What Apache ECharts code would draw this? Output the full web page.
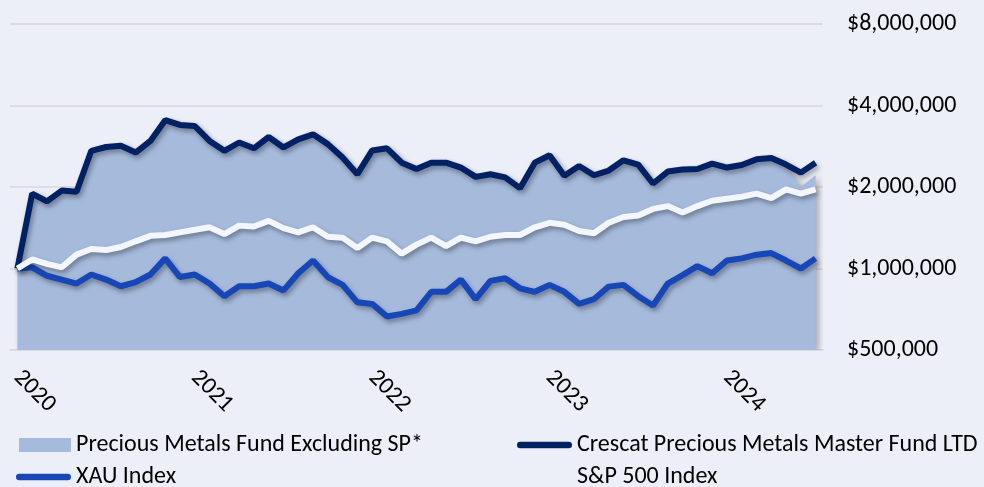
<!DOCTYPE html>
<html><head><meta charset="utf-8">
<script src="https://cdn.jsdelivr.net/npm/echarts@6/dist/echarts.min.js"></script>
<style>html,body{margin:0;padding:0;background:#ECEFF7;}#c{width:984px;height:487px;}</style>
</head><body><div id="c"></div>
<script>
const months = [
'2020-01','2020-02','2020-03','2020-04','2020-05','2020-06','2020-07','2020-08','2020-09','2020-10','2020-11','2020-12',
'2021-01','2021-02','2021-03','2021-04','2021-05','2021-06','2021-07','2021-08','2021-09','2021-10','2021-11','2021-12',
'2022-01','2022-02','2022-03','2022-04','2022-05','2022-06','2022-07','2022-08','2022-09','2022-10','2022-11','2022-12',
'2023-01','2023-02','2023-03','2023-04','2023-05','2023-06','2023-07','2023-08','2023-09','2023-10','2023-11','2023-12',
'2024-01','2024-02','2024-03','2024-04','2024-05','2024-06','2024-07'];
const yearLabels = ['2020','2021','2022','2023','2024'];
const yTicks = [500000, 1000000, 2000000, 4000000, 8000000];

const crescat = [1000000,1890000,1770000,1940000,1920000,2720000,2810000,2840000,2680000,2960000,3530000,3390000,
3360000,2960000,2720000,2920000,2780000,3060000,2800000,3000000,3130000,2880000,2570000,2230000,
2730000,2780000,2460000,2330000,2460000,2460000,2360000,2180000,2230000,2170000,1980000,2460000,
2620000,2200000,2390000,2210000,2300000,2510000,2420000,2060000,2280000,2320000,2330000,2440000,
2360000,2410000,2530000,2560000,2420000,2260000,2460000];
const fundExSP = [1000000,1890000,1770000,1940000,1920000,2720000,2810000,2840000,2680000,2960000,3530000,3390000,
3360000,2960000,2720000,2920000,2780000,3060000,2800000,3000000,3130000,2880000,2570000,2230000,
2730000,2780000,2460000,2330000,2460000,2460000,2360000,2180000,2230000,2170000,1980000,2460000,
2620000,2200000,2390000,2210000,2300000,2510000,2420000,2060000,2280000,2320000,2330000,2440000,
2360000,2410000,2530000,2560000,2420000,2000000,2210000];
const sp500 = [1000000,1080000,1040000,1010000,1125000,1180000,1170000,1200000,1260000,1320000,1330000,1360000,
1390000,1420000,1340000,1440000,1430000,1500000,1410000,1360000,1420000,1310000,1300000,1190000,
1300000,1260000,1135000,1225000,1300000,1210000,1300000,1260000,1310000,1330000,1330000,1420000,
1475000,1450000,1375000,1350000,1475000,1550000,1570000,1660000,1700000,1610000,1700000,1780000,
1810000,1840000,1890000,1820000,1960000,1890000,1960000];
const xau = [1000000,1010000,940000,910000,880000,950000,910000,860000,890000,950000,1090000,930000,
950000,880000,790000,860000,860000,880000,830000,960000,1070000,930000,870000,750000,
740000,665000,680000,700000,820000,820000,910000,770000,900000,920000,845000,820000,
870000,820000,740000,770000,857000,870000,790000,730000,880000,945000,1020000,960000,
1070000,1090000,1125000,1140000,1070000,1000000,1090000];

const FONT = "Carlito, 'Liberation Sans Narrow', sans-serif";
const capsule = 'path://M3.5,0 H54.5 A3.5,3.5 0 0 1 54.5,7 H3.5 A3.5,3.5 0 0 1 3.5,0 Z';
const shadow = {shadowColor:'rgba(0,0,0,0.35)', shadowBlur:5, shadowOffsetX:2, shadowOffsetY:3};
const txt = {color:'#000', fontSize:24, fontFamily:FONT};

function nearestTick(v) {
  let best = yTicks[0];
  yTicks.forEach(t => { if (Math.abs(Math.log(t / v)) < Math.abs(Math.log(best / v))) best = t; });
  return best;
}

function legendAt(name, left, top, w, h, icon, itemStyle) {
  const d = {name:name, icon:icon};
  if (itemStyle) d.itemStyle = itemStyle;
  return {
    data:[d], left:left, top:top, padding:0, itemWidth:w, itemHeight:h,
    selectedMode:false, textStyle:Object.assign({}, txt, {lineHeight:24})
  };
}

const chart = echarts.init(document.getElementById('c'));
chart.setOption({
  backgroundColor:'#ECEFF7',
  animation:false,
  grid:{left:10, right:161, top:24, bottom:137, outerBoundsMode:'none'},
  legend:[
    legendAt('Precious Metals Fund Excluding SP*', 19, 433, 52, 14, 'rect'),
    legendAt('Crescat Precious Metals Master Fund LTD', 517, 433, 55, 7, capsule),
    legendAt('XAU Index', 16, 465, 55, 7, capsule),
    legendAt('S&P 500 Index', 517, 465, 55, 7, 'rect', {color:'rgba(0,0,0,0)', opacity:0})
  ],
  xAxis:{
    type:'category', data:months, boundaryGap:true,
    axisLine:{lineStyle:{color:'#D9D9D9', width:1.5}},
    axisTick:{interval:(i)=>i%12===0, length:8, lineStyle:{color:'#D9D9D9', width:1.5}},
    axisLabel:Object.assign({}, txt, {interval:(i)=>i%12===0, rotate:-45, margin:24,
      formatter:(v, i)=>yearLabels[Math.floor(i/12)]}),
    splitLine:{show:false}
  },
  yAxis:{
    type:'log', logBase:2, min:yTicks[0], max:yTicks[yTicks.length-1], interval:1, position:'right',
    axisLine:{show:false}, axisTick:{show:false},
    splitLine:{lineStyle:{color:'#D9D9D9', width:1.5}},
    axisLabel:Object.assign({}, txt, {margin:24,
      formatter:(v)=>'$' + nearestTick(v).toLocaleString('en-US')})
  },
  series:[
    {name:'Precious Metals Fund Excluding SP*', type:'line', data:fundExSP, symbol:'none', color:'#A6BADC',
     lineStyle:{width:0}, areaStyle:{color:'#A6BADC', opacity:1, origin:'start',
       shadowColor:'rgba(0,0,0,0.3)', shadowBlur:6, shadowOffsetX:3, shadowOffsetY:2}, z:1},
    {name:'Crescat Precious Metals Master Fund LTD', type:'line', data:crescat, symbol:'none', color:'#002163',
     lineStyle:Object.assign({width:6, color:'#002163'}, shadow), z:3},
    {name:'XAU Index', type:'line', data:xau, symbol:'none', color:'#1747B7',
     lineStyle:Object.assign({width:6, color:'#1747B7'}, shadow), z:4},
    {name:'S&P 500 Index', type:'line', data:sp500, symbol:'none', color:'#F3F6FC',
     lineStyle:Object.assign({width:6, color:'#F3F6FC'}, shadow), z:5}
  ]
});
</script></body></html>
